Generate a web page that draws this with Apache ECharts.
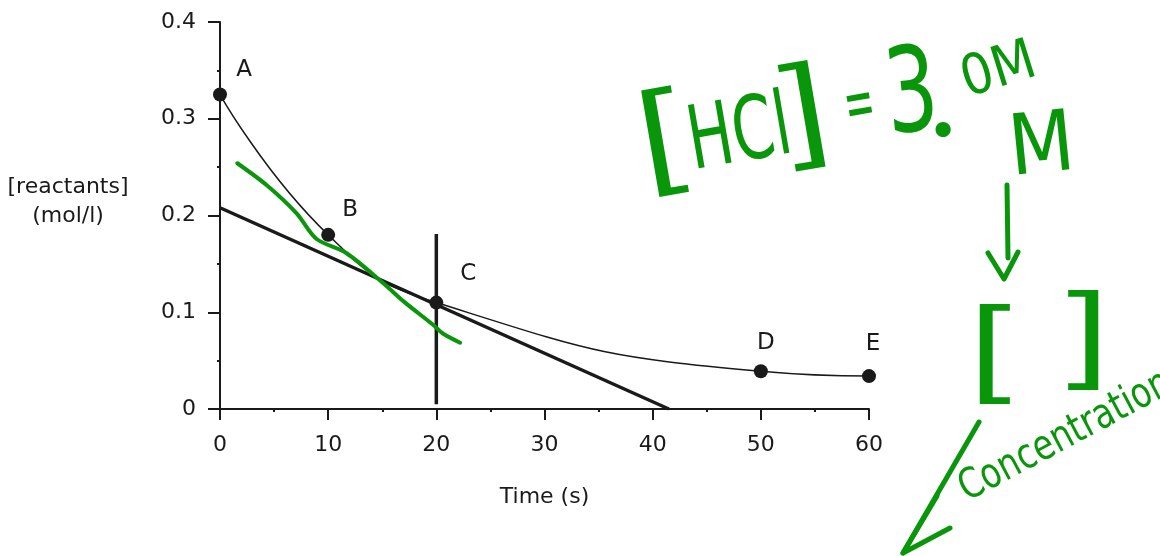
<!DOCTYPE html>
<html>
<head>
<meta charset="utf-8">
<script src="https://cdn.jsdelivr.net/npm/echarts@6/dist/echarts.min.js"></script>
<style>
html,body{margin:0;padding:0;background:#fff;}
#chart{width:1160px;height:556px;}
</style>
</head>
<body>
<div id="chart"></div>
<script>
// ---- data ----
const pointNames = ['A', 'B', 'C', 'D', 'E'];
const pointTimes = [0, 10, 20, 50, 60];
const pointConc = [0.325, 0.18, 0.11, 0.039, 0.034];
const tangentTimes = [0, 41.5];
const tangentConc = [0.208, 0];
const markerTimes = [20, 20];
const markerConc = [0.005, 0.181];
const greenTimes = [1.6, 4.3, 7.1, 8.9, 11.7, 15.1, 17.0, 19.7, 20.6, 22.2];
const greenConc = [0.254, 0.2315, 0.202, 0.176, 0.161, 0.13, 0.111, 0.087, 0.078, 0.0685];
const xTicks = [0, 10, 20, 30, 40, 50, 60];
const yTicks = [0, 0.1, 0.2, 0.3, 0.4];
const xName = 'Time (s)';
const yName = ['[reactants]', '(mol/l)'];

// ---- build ----
const FONT = 'DejaVu Sans';
const INK = '#1a1a1a';
const GREEN = '#0a960a';
const labelOffsets = [[24, -25], [22, -25], [32, -29], [5, -28], [4, -32]];

const zip = (a, b) => a.map((v, i) => [v, b[i]]);

const curveData = pointTimes.map((t, i) => ({
  value: [t, pointConc[i]],
  name: pointNames[i],
  label: { offset: labelOffsets[i] }
}));

const chart = echarts.init(document.getElementById('chart'), null, { renderer: 'canvas' });

const axisCommon = {
  axisLine: { show: true, lineStyle: { color: INK, width: 2 } },
  axisTick: { show: true, inside: false, lineStyle: { color: INK, width: 2 } },
  minorTick: { show: true, splitNumber: 2, length: 3, lineStyle: { color: INK, width: 2 } },
  splitLine: { show: false },
  minorSplitLine: { show: false },
  axisLabel: { color: INK, fontFamily: FONT, fontSize: 22 }
};

function hw(text, x, y, size, opts) {
  opts = opts || {};
  return {
    type: 'text', x: x, y: y, rotation: opts.rot || 0,
    scaleX: opts.sx || 1, scaleY: opts.sy || 1,
    style: {
      text: text, font: (opts.weight || 'normal') + ' ' + size + 'px "' + (opts.font || FONT) + '"',
      fill: GREEN, textAlign: opts.align || 'center', textVerticalAlign: 'middle'
    }
  };
}
function stroke(points) {
  return { type: 'polyline', shape: { points: points },
    style: { stroke: GREEN, lineWidth: 5, lineCap: 'round', lineJoin: 'round', fill: null } };
}

const option = {
  animation: false,
  backgroundColor: '#fff',
  grid: { left: 220, right: 291, top: 22, bottom: 147, containLabel: false },
  xAxis: Object.assign({}, axisCommon, {
    type: 'value', min: xTicks[0], max: xTicks[xTicks.length - 1], interval: 10,
    axisTick: Object.assign({}, axisCommon.axisTick, { length: 11 }),
    axisLabel: Object.assign({}, axisCommon.axisLabel, { margin: 25 }),
    name: xName, nameLocation: 'middle', nameGap: 77,
    nameTextStyle: { color: INK, fontFamily: FONT, fontSize: 22 }
  }),
  yAxis: Object.assign({}, axisCommon, {
    type: 'value', min: yTicks[0], max: yTicks[yTicks.length - 1], interval: 0.1,
    axisTick: Object.assign({}, axisCommon.axisTick, { length: 12 }),
    axisLabel: Object.assign({}, axisCommon.axisLabel, { margin: 24 })
  }),
  graphic: [
    { type: 'text', x: 68, y: 202, style: {
        text: yName.join('\n'), font: '22px "' + FONT + '"', fill: INK,
        textAlign: 'center', textVerticalAlign: 'middle', lineHeight: 29 } },
    // handwritten annotations
    hw('[', 660, 140, 116, { rot: 0.17, font: 'Liberation Sans', sx: 1.3 }),
    hw('HCl', 740, 138, 88, { rot: 0.17, sx: 0.68 }),
    hw(']', 806, 113, 116, { rot: 0.17, font: 'Liberation Sans', sx: 1.3 }),
    hw('=', 860, 108, 72, { rot: 0.17, sx: 0.5 }),
    hw('3', 912, 100, 118, { rot: 0.1, sx: 0.7 }),
    hw('.', 943, 104, 100, { weight: 'bold', font: 'Lato' }),
    hw('0M', 999, 72, 56, { rot: 0.3, sx: 0.9 }),
    hw('M', 1042, 150, 84, { rot: 0.1, sx: 0.9 }),
    stroke([[1007, 185], [1008, 258]]),
    stroke([[988, 253], [1004, 279], [1018, 252]]),
    hw('[', 990, 352, 108, { font: 'Liberation Sans', sx: 1.4 }),
    hw(']', 1088, 338, 108, { font: 'Liberation Sans', sx: 1.4 }),
    hw('Concentration', 962, 492, 42, { rot: 0.49, sx: 0.79, align: 'left' }),
    stroke([[979, 422], [903, 553]]),
    stroke([[937, 496], [903, 553], [950, 528]])
  ],
  series: [
    {
      type: 'line', data: zip(tangentTimes, tangentConc), symbol: 'none',
      lineStyle: { color: INK, width: 3.5 }, z: 2
    },
    {
      type: 'line', data: zip(markerTimes, markerConc), symbol: 'none',
      lineStyle: { color: INK, width: 3.5 }, z: 2
    },
    {
      type: 'line', data: curveData, smooth: 0.5,
      symbol: 'circle', symbolSize: 14,
      itemStyle: { color: INK },
      lineStyle: { color: INK, width: 1.5 },
      label: {
        show: true, position: 'inside', formatter: p => p.name,
        color: INK, fontFamily: FONT, fontSize: 23
      },
      z: 3
    },
    {
      type: 'line', data: zip(greenTimes, greenConc), symbol: 'none', smooth: 0.3,
      lineStyle: { color: GREEN, width: 4, cap: 'round', join: 'round' }, z: 4
    }
  ]
};
chart.setOption(option);
</script>
</body>
</html>
